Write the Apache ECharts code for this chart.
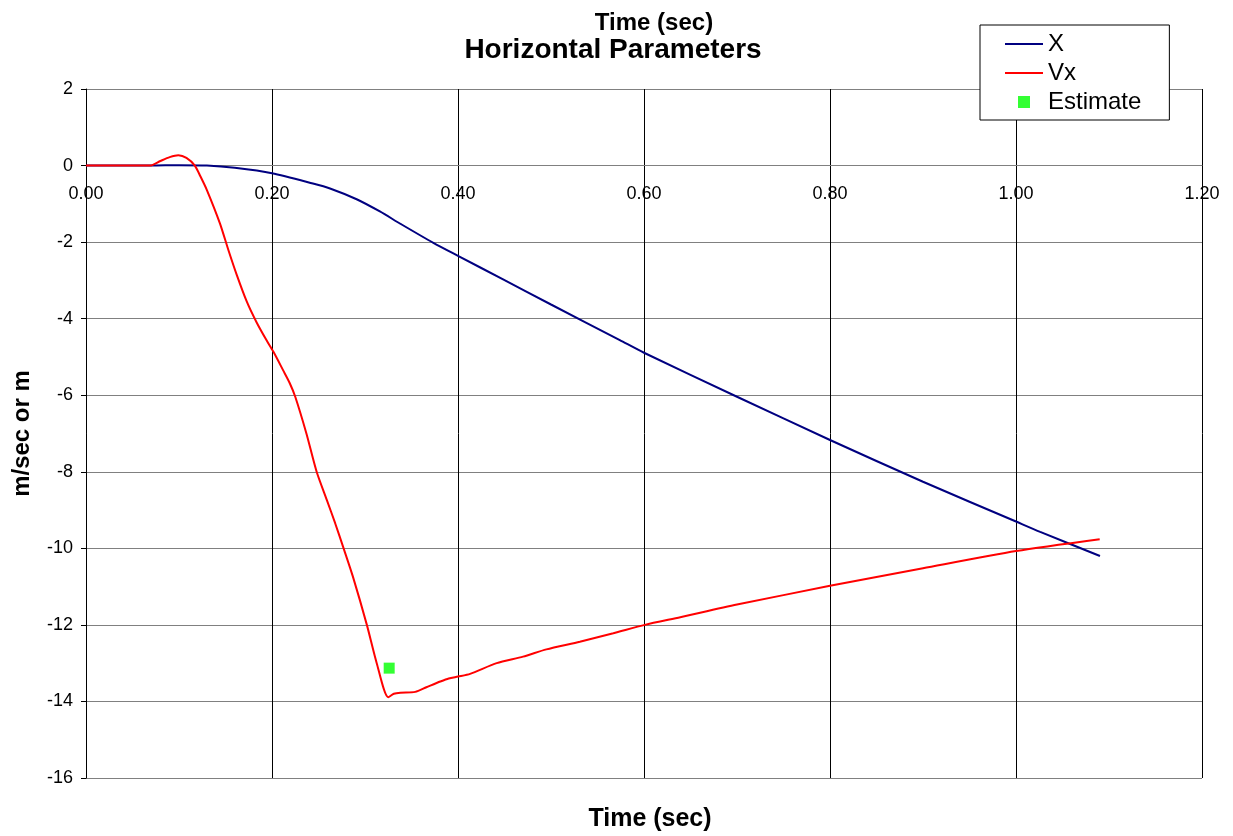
<!DOCTYPE html>
<html>
<head>
<meta charset="utf-8">
<script src="https://cdn.jsdelivr.net/npm/echarts@6/dist/echarts.min.js"></script>
<style>
html,body{margin:0;padding:0;background:#fff;}
#chart{width:1233px;height:836px;}
</style>
</head>
<body>
<div id="chart"></div>
<script>
// Time (sec), X (m)
const xTime = [0, 0.07, 0.10, 0.13, 0.16, 0.20, 0.244, 0.2624, 0.291, 0.316, 0.338, 0.3735, 0.40, 0.449, 0.50, 0.574, 0.60, 0.70, 0.80, 0.90, 1.00, 1.026, 1.0903];
const xValues = [0, 0, 0.01, 0.0, -0.06, -0.2, -0.47, -0.6, -0.88, -1.2, -1.52, -2.02, -2.36, -2.98, -3.63, -4.56, -4.89, -6.04, -7.17, -8.26, -9.3, -9.57, -10.2];

// Time (sec), Vx (m/sec)
const vxTime = [0, 0.02, 0.04, 0.06, 0.0688, 0.08, 0.09, 0.0993, 0.108, 0.117, 0.123, 0.13, 0.144, 0.153, 0.162, 0.1728, 0.1835, 0.194, 0.2014, 0.212, 0.219, 0.225, 0.237, 0.248, 0.259, 0.268, 0.277, 0.287, 0.302, 0.3126, 0.325, 0.331, 0.338, 0.354, 0.366, 0.381, 0.39, 0.40, 0.413, 0.4416, 0.47, 0.495, 0.531, 0.567, 0.601, 0.639, 0.70, 0.80, 0.90, 1.00, 1.09];
const vxValues = [0, 0, 0, 0, 0, 0.12, 0.22, 0.27, 0.2, 0, -0.28, -0.64, -1.51, -2.2, -2.85, -3.55, -4.1, -4.56, -4.86, -5.35, -5.68, -6.04, -7.0, -8.0, -8.74, -9.35, -10.0, -10.74, -12.0, -13.0, -13.89, -13.8, -13.77, -13.75, -13.63, -13.48, -13.4, -13.35, -13.28, -13.0, -12.83, -12.64, -12.44, -12.22, -12.0, -11.8, -11.47, -10.98, -10.52, -10.07, -9.76];

// Estimate point
const estTime = [0.326];
const estValues = [-13.13];

const xTicks = { min: 0, max: 1.2, interval: 0.2 };
const yTicks = { min: -16, max: 2, interval: 2 };

const zip = (a, b) => a.map((v, i) => [v, b[i]]);

const chart = echarts.init(document.getElementById('chart'), null, { renderer: 'canvas' });
const FONT = 'Liberation Sans, Arial, sans-serif';

const gridTop = 89, gridBottom = 58, chartH = 836;
const gridH = chartH - gridTop - gridBottom;
// shift the x axis from the bottom of the grid up to the y = 0 line
const xAxisOffset = -gridH * (0 - yTicks.min) / (yTicks.max - yTicks.min);

chart.setOption({
  animation: false,
  backgroundColor: '#ffffff',
  title: [
    { text: 'Time (sec)', left: 649, textAlign: 'center', top: 6,
      textStyle: { fontFamily: FONT, fontSize: 24, fontWeight: 'bold', color: '#000' } },
    { text: 'Horizontal Parameters', left: 608, textAlign: 'center', top: 31,
      textStyle: { fontFamily: FONT, fontSize: 28, fontWeight: 'bold', color: '#000' } },
    { text: 'Time (sec)', left: 645, textAlign: 'center', top: 802,
      textStyle: { fontFamily: FONT, fontSize: 25, fontWeight: 'bold', color: '#000' } }
  ],
  legend: {
    orient: 'vertical',
    left: 980, top: 25,
    padding: [7, 28, 6, 25],
    itemGap: 5,
    itemWidth: 38, itemHeight: 12,
    backgroundColor: '#fff',
    borderColor: '#000', borderWidth: 1,
    textStyle: { fontFamily: FONT, fontSize: 24, color: '#000', lineHeight: 24 },
    data: [
      { name: 'X', icon: 'path://M0,5 L38,5 L38,7 L0,7 Z' },
      { name: 'Vx', icon: 'path://M0,5 L38,5 L38,7 L0,7 Z' },
      { name: 'Estimate', icon: 'path://M14,0 L24,0 L24,10 L14,10 Z' }
    ]
  },
  grid: { left: 86, right: 31, top: gridTop, bottom: gridBottom, containLabel: false, outerBoundsMode: 'none' },
  xAxis: {
    type: 'value', min: xTicks.min, max: xTicks.max, interval: xTicks.interval,
    position: 'bottom', offset: xAxisOffset,
    axisLine: { onZero: false, lineStyle: { color: '#808080', width: 1 } },
    axisTick: { show: false },
    axisLabel: { fontFamily: FONT, fontSize: 18, color: '#000', margin: 19,
      formatter: v => v.toFixed(2) },
    splitLine: { show: true, lineStyle: { color: '#000', width: 1 } }
  },
  yAxis: {
    type: 'value', min: yTicks.min, max: yTicks.max, interval: yTicks.interval,
    name: 'm/sec or m', nameLocation: 'middle', nameGap: 52, nameRotate: 90,
    nameTextStyle: { fontFamily: FONT, fontSize: 24, fontWeight: 'bold', color: '#000' },
    axisLine: { show: true, onZero: false, lineStyle: { color: '#000', width: 1 } },
    axisTick: { show: true, length: 5, lineStyle: { color: '#000' } },
    axisLabel: { fontFamily: FONT, fontSize: 18, color: '#000', margin: 13 },
    splitLine: { show: true, lineStyle: { color: '#808080', width: 1 } }
  },
  series: [
    { name: 'X', type: 'line', data: zip(xTime, xValues), showSymbol: false, symbol: 'none',
      smooth: 0.25, lineStyle: { color: '#000080', width: 2 }, itemStyle: { color: '#000080' }, z: 3 },
    { name: 'Vx', type: 'line', data: zip(vxTime, vxValues), showSymbol: false, symbol: 'none',
      smooth: 0.25, lineStyle: { color: '#ff0000', width: 2 }, itemStyle: { color: '#ff0000' }, z: 4 },
    { name: 'Estimate', type: 'scatter', data: zip(estTime, estValues), symbol: 'rect',
      symbolSize: 11, itemStyle: { color: '#00ff00' }, z: 5 }
  ]
});
</script>
</body>
</html>
